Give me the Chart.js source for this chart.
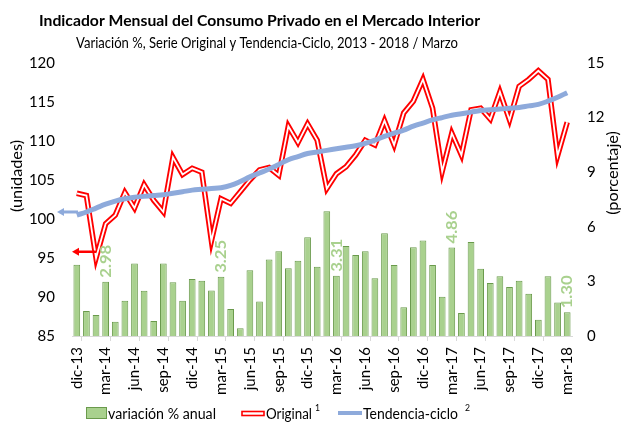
<!DOCTYPE html>
<html><head><meta charset="utf-8">
<script src="https://cdn.jsdelivr.net/npm/chart.js@4.4.1/dist/chart.umd.min.js"></script>
<style>html,body{margin:0;padding:0;background:#fff}#wrap{width:621px;height:424px;position:relative}</style>
</head><body><div id="wrap"><canvas id="c" width="621" height="424" style="width:621px;height:424px"></canvas></div>
<script>
const categories = ['dic-13','ene-14','feb-14','mar-14','abr-14','may-14','jun-14','jul-14','ago-14','sep-14','oct-14','nov-14',
'dic-14','ene-15','feb-15','mar-15','abr-15','may-15','jun-15','jul-15','ago-15','sep-15','oct-15','nov-15',
'dic-15','ene-16','feb-16','mar-16','abr-16','may-16','jun-16','jul-16','ago-16','sep-16','oct-16','nov-16',
'dic-16','ene-17','feb-17','mar-17','abr-17','may-17','jun-17','jul-17','ago-17','sep-17','oct-17','nov-17',
'dic-17','ene-18','feb-18','mar-18'];
const variacion = [3.92,1.38,1.16,2.98,0.78,1.94,3.98,2.49,0.83,3.98,2.96,1.94,3.13,3.04,2.50,3.25,1.49,0.42,3.61,1.90,4.20,4.66,3.72,4.14,5.42,3.81,6.85,3.31,4.94,4.45,4.66,3.17,5.64,3.90,1.58,4.88,5.25,3.90,2.16,4.86,1.27,5.17,3.70,2.91,3.28,2.69,3.04,2.32,0.89,3.28,1.84,1.30];
const original = [103.3,103.0,95.0,99.4,100.5,103.4,101.4,104.4,102.4,100.9,107.9,105.7,106.5,106.0,97.2,102.6,102.0,103.5,105.0,106.3,106.6,105.6,111.9,109.8,112.2,110.1,103.9,105.8,106.7,108.2,110.1,109.5,112.6,109.5,113.6,115.1,117.9,114.2,106.1,111.0,108.2,114.0,114.2,112.8,116.3,112.7,117.0,117.9,119.0,117.9,108.1,112.4];
const tendencia = [100.5,100.9,101.4,101.9,102.3,102.6,102.8,102.9,103.0,103.1,103.3,103.5,103.7,103.8,103.9,104.0,104.3,104.8,105.4,105.9,106.4,107.0,107.6,108.0,108.4,108.6,108.8,109.0,109.2,109.4,109.7,110.1,110.6,111.0,111.4,111.9,112.3,112.7,113.0,113.3,113.5,113.7,113.9,114.0,114.1,114.2,114.3,114.5,114.7,115.1,115.6,116.2];
const labeledIdx = [3,15,27,39,51];
const leftTicks = {min:85, max:120, step:5};
const rightTicks = {min:0, max:15, step:3};
const titleText = 'Indicador Mensual del Consumo Privado en el Mercado Interior';
const subtitleText = 'Variación %, Serie Original y Tendencia-Ciclo, 2013 - 2018 / Marzo';

const FAM = 'Lato, "Open Sans", sans-serif';
const GREEN = '#a9d18e', GREEN_D = '#6a9a4c', RED = '#ff0000', BLUE = '#8eaadb';

// draw text at a given font size, condensed horizontally to a target width
function condensed(ctx, text, weight, size, target, x, y, align, rot) {
  ctx.save();
  ctx.font = weight + ' ' + size + 'px ' + FAM;
  const w = ctx.measureText(text).width;
  const k = Math.min(1.05, target / w);
  ctx.translate(x, y);
  if (rot) ctx.rotate(rot);
  ctx.scale(k, 1);
  ctx.textAlign = align; ctx.textBaseline = 'middle';
  ctx.fillText(text, 0, 0);
  ctx.restore();
}
function arrow(ctx, x1, x2, y, color, lw, hw, hl) {
  ctx.save();
  ctx.strokeStyle = color; ctx.fillStyle = color; ctx.lineWidth = lw;
  ctx.beginPath(); ctx.moveTo(x1 + hl - 1, y); ctx.lineTo(x2, y); ctx.stroke();
  ctx.beginPath(); ctx.moveTo(x1, y); ctx.lineTo(x1 + hl, y - hw); ctx.lineTo(x1 + hl, y + hw); ctx.closePath(); ctx.fill();
  ctx.restore();
}

const deco = {
  id: 'deco',
  afterDatasetsDraw(chart) {
    const ctx = chart.ctx, ca = chart.chartArea;
    const ys = chart.scales.y, xs = chart.scales.x;
    const meta = chart.getDatasetMeta(3);
    ctx.save();
    ctx.fillStyle = GREEN;
    labeledIdx.forEach(i => {
      const el = meta.data[i];
      const t = variacion[i].toFixed(2);
      condensed(ctx, t, 'bold', 16, 33, el.x, el.y - 4, 'left', -Math.PI / 2);
    });
    ctx.restore();
    arrow(ctx, ca.left - 15, ca.left + 6, ys.getPixelForValue(100.9), BLUE, 3, 4, 7);
    arrow(ctx, ca.left, xs.getPixelForValue(2), ys.getPixelForValue(95.8), RED, 2.5, 4, 7);
  },
  afterDraw(chart) {
    const ctx = chart.ctx;
    ctx.save();
    ctx.fillStyle = '#000';
    condensed(ctx, titleText, 'bold', 16, 441, 259.5, 21, 'center');
    condensed(ctx, subtitleText, 'normal', 15, 382, 267, 43, 'center');
    condensed(ctx, '(unidades)', 'normal', 15.5, 75, 17, 176, 'center', -Math.PI / 2);
    condensed(ctx, '(porcentaje)', 'normal', 15.5, 90, 613, 173, 'center', -Math.PI / 2);
    // legend
    const ly = 414;
    ctx.fillStyle = GREEN; ctx.fillRect(86, 407, 21, 12);
    ctx.strokeStyle = GREEN_D; ctx.lineWidth = 1; ctx.strokeRect(86.5, 407.5, 20, 11);
    ctx.fillStyle = '#000';
    condensed(ctx, 'variación % anual', 'normal', 15.5, 108, 108, ly, 'left');
    ctx.strokeStyle = RED; ctx.lineWidth = 1.6; ctx.strokeRect(242, 411.5, 22, 4);
    condensed(ctx, 'Original', 'normal', 15.5, 46, 266, ly, 'left');
    condensed(ctx, '1', 'normal', 10, 5, 315, 408, 'left');
    ctx.strokeStyle = BLUE; ctx.lineWidth = 4; ctx.beginPath(); ctx.moveTo(338, 413); ctx.lineTo(362, 413); ctx.stroke();
    condensed(ctx, 'Tendencia-ciclo', 'normal', 15.5, 95, 363, ly, 'left');
    condensed(ctx, '2', 'normal', 10, 5, 465, 408, 'left');
    ctx.restore();
  }
};

new Chart(document.getElementById('c'), {
  type: 'bar',
  data: {
    labels: categories,
    datasets: [
      {type:'line', label:'Tendencia-ciclo', data: tendencia, yAxisID:'y', borderColor: BLUE, borderWidth:5, pointRadius:0, tension:0.4, order:1, borderCapStyle:'butt'},
      {type:'line', label:'Original (interior)', data: original, yAxisID:'y', borderColor:'#ffffff', borderWidth:1.8, pointRadius:0, tension:0, order:2, borderJoinStyle:'miter'},
      {type:'line', label:'Original', data: original, yAxisID:'y', borderColor: RED, borderWidth:5.5, pointRadius:0, tension:0, order:3, borderJoinStyle:'miter'},
      {type:'bar', label:'variación % anual', data: variacion, yAxisID:'y1', backgroundColor: GREEN, borderColor: GREEN_D, borderWidth:1, barPercentage:0.7, categoryPercentage:1, order:4}
    ]
  },
  options: {
    responsive:false, animation:false, devicePixelRatio:1,
    layout:{padding:{top:63, left:0, right:0, bottom:0}},
    plugins:{legend:{display:false}, tooltip:{enabled:false}, title:{display:false}},
    scales:{
      x:{
        offset:true,
        grid:{offset:true, drawOnChartArea:false, drawTicks:true, tickLength:5,
              color: c => (c.index % 3 === 1 ? '#d9d9d9' : 'rgba(0,0,0,0)')},
        border:{display:true, color:'#d9d9d9'},
        ticks:{autoSkip:false, maxRotation:90, minRotation:90, padding:6, color:'#000',
               font:{family:FAM, size:15}, callback:(v, i) => (i % 3 === 0 ? categories[i] : '')},
        afterFit: s => { s.height = 88; }
      },
      y:{
        position:'left', min:leftTicks.min, max:leftTicks.max,
        ticks:{stepSize:leftTicks.step, padding:17, color:'#000', font:{family:FAM, size:15}},
        grid:{display:false, drawTicks:false}, border:{display:false},
        afterFit: s => { s.width = 72; }
      },
      y1:{
        position:'right', min:rightTicks.min, max:rightTicks.max,
        ticks:{stepSize:rightTicks.step, padding:15, color:'#000', font:{family:FAM, size:15}},
        grid:{display:false, drawTicks:false}, border:{display:false},
        afterFit: s => { s.width = 49; }
      }
    }
  },
  plugins:[deco]
});
</script></body></html>
